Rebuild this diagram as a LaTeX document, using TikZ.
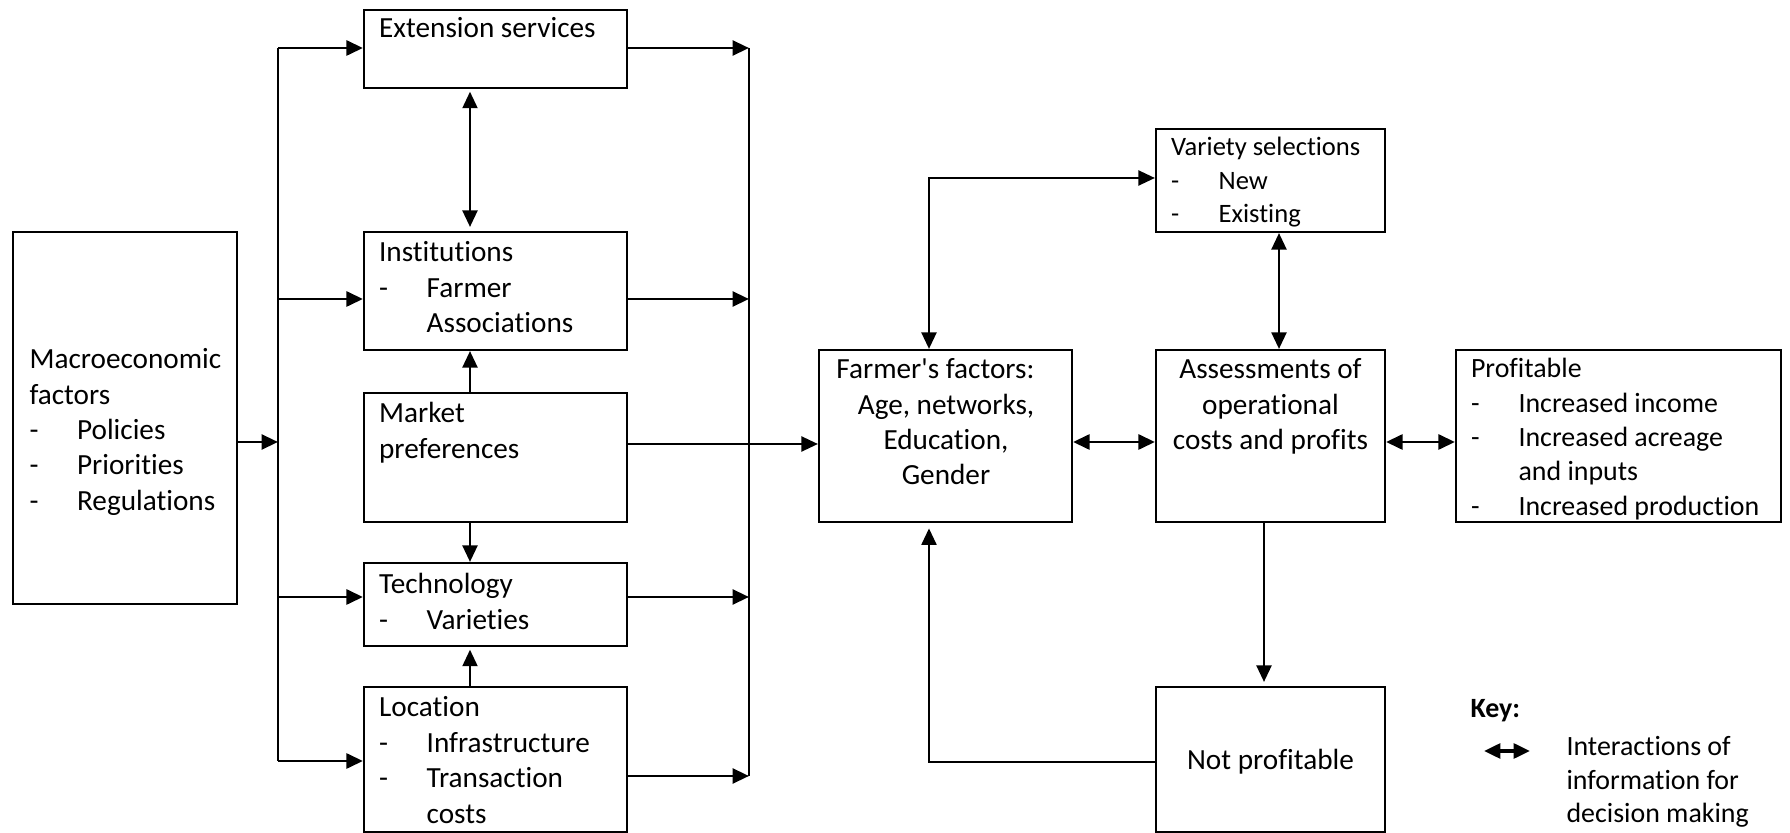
\documentclass[tikz,border=0pt]{standalone}
\usepackage{fontspec}
\setmainfont{Carlito}[Ligatures={TeX,NoCommon}]
\usetikzlibrary{arrows.meta,fit}
% list helpers: a dash followed by a tab-like indent, and an indented continuation line
\newcommand\dashitem{\makebox[17.9pt][l]{-}}
\newcommand\contline{\hspace*{17.9pt}}
% stacked lines whose baseline is the baseline of the first line
\newcommand\leftlines[1]{\vtop{\halign{##\hfil\cr #1\crcr}}}
\newcommand\centerlines[1]{\vtop{\halign{\hfil##\hfil\cr #1\crcr}}}
\begin{document}
\begin{tikzpicture}[x=0.3764pt,y=-0.3764pt,
  box/.style={draw, line width=0.8pt, inner sep=0pt},
  txt/.style={inner sep=0pt, anchor=base west, font=\fontsize{11}{13.3}\selectfont},
  ctxt/.style={inner sep=0pt, anchor=base, font=\fontsize{11}{13.3}\selectfont},
  tip/.style={line width=0.9pt},
  plain/.style={line width=0.8pt},
  link/.style={line width=0.9pt, -{Triangle[length=6.2pt,width=5.6pt]}},
  both/.style={line width=0.9pt, {Triangle[length=6.2pt,width=5.6pt]}-{Triangle[length=6.2pt,width=5.6pt]}}
]
\useasboundingbox (0,0) rectangle (1790,833);
\fill[white] (0,0) rectangle (1790,833);

% boxes
\node[box, fit={(13,232)(237,604)}] (macro) {};
\node[box, fit={(364,10)(627,88)}] (ext) {};
\node[box, fit={(364,232)(627,350)}] (inst) {};
\node[box, fit={(364,393)(627,522)}] (market) {};
\node[box, fit={(364,563)(627,646)}] (tech) {};
\node[box, fit={(364,687)(627,832)}] (loc) {};
\node[box, fit={(1156,129)(1385,232)}] (variety) {};
\node[box, fit={(819,350)(1072,522)}] (farmer) {};
\node[box, fit={(1156,350)(1385,522)}] (assess) {};
\node[box, fit={(1456,350)(1781,522)}] (profit) {};
\node[box, fit={(1156,687)(1385,832)}] (notprofit) {};

% box texts
\node[txt] (extT) at (378.6,38) {Extension services};
\node[txt] (instT) at (378.6,262) {\leftlines{Institutions\cr\dashitem Farmer\cr\contline Associations}};
\node[txt] (marketT) at (378.6,423) {\leftlines{Market\cr preferences}};
\node[txt] (techT) at (378.6,594) {\leftlines{Technology\cr\dashitem Varieties}};
\node[txt] (locT) at (378.6,717) {\leftlines{Location\cr\dashitem Infrastructure\cr\dashitem Transaction\cr\contline costs}};
\node[txt] (macroT) at (29,369) {\leftlines{Macroeconomic\cr factors\cr\dashitem Policies\cr\dashitem Priorities\cr\dashitem Regulations}};
\node[txt, font=\fontsize{10}{12.6}\selectfont] (varT) at (1170.6,156) {\leftlines{Variety selections\cr\dashitem New\cr\dashitem Existing}};
\node[ctxt] (farmerT) at (946,379) {\centerlines{Farmer\textquotesingle s factors:\hspace*{8pt}\cr Age, networks,\cr Education,\cr Gender}};
\node[ctxt] (assessT) at (1270.5,379) {\centerlines{Assessments of\cr operational\cr costs and profits}};
\node[txt, font=\fontsize{10.5}{12.9}\selectfont] (profitT) at (1470.5,378) {\leftlines{Profitable\cr\dashitem Increased income\cr\dashitem Increased acreage\cr\contline and inputs\cr\dashitem Increased production}};
\node[ctxt] (notT) at (1270.5,770) {Not profitable};

% key
\node[txt, font=\fontsize{10.5}{12.6}\selectfont\bfseries] (keyT) at (1470,718) {Key:};
\node[txt, font=\fontsize{10.5}{12.6}\selectfont] (keyD) at (1566,756) {\leftlines{Interactions of\cr information for\cr decision making}};
\coordinate (keyL) at (1484,751);
\coordinate (keyR) at (1530,751);
\draw[both, line width=1.3pt] (keyL) -- (keyR);

% distribution bus on the left, collecting bus on the right
\coordinate (lbusTop) at (278,48);
\coordinate (lbusBot) at (278,761);
\coordinate (rbusTop) at (749,48);
\coordinate (rbusBot) at (749,776);
\draw[plain] (lbusTop) -- (lbusBot);
\draw[plain] (rbusTop) -- (rbusBot);
\draw[link, line width=1.1pt] (macro.east |- 0,442) -- (lbusTop |- 0,442);
\draw[link, line width=1.1pt] (lbusTop) -- (ext.west |- lbusTop);
\draw[link, line width=1.1pt] (lbusTop |- 0,299) -- (inst.west |- 0,299);
\draw[link, line width=1.1pt] (lbusTop |- 0,597) -- (tech.west |- 0,597);
\draw[link, line width=1.1pt] (lbusBot) -- (loc.west |- lbusBot);
\draw[link, line width=1.1pt] (ext.east |- rbusTop) -- (rbusTop);
\draw[link, line width=1.1pt] (inst.east |- 0,299) -- (rbusTop |- 0,299);
\draw[link, line width=1.1pt] (tech.east |- 0,597) -- (rbusTop |- 0,597);
\draw[link, line width=1.1pt] (loc.east |- rbusBot) -- (rbusBot);
\draw[link] (market.east |- 0,444) -- (farmer.west |- 0,444);

% links between the middle column boxes
\draw[both, shorten <=1pt, shorten >=1.5pt] (ext.south -| 470,0) -- (inst.north -| 470,0);
\draw[link] (market.north -| 470,0) -- (inst.south -| 470,0);
\draw[link] (market.south -| 470,0) -- (tech.north -| 470,0);
\draw[link, shorten >=1pt] (loc.north -| 470,0) -- (tech.south -| 470,0);

% decision loop
\coordinate (corner) at (929,178);
\draw[both] (farmer.north -| corner) -- (corner) -- (variety.west |- corner);
\draw[both] (variety.south -| 1279,0) -- (assess.north -| 1279,0);
\draw[both, line width=1.1pt] (farmer.east |- 0,442) -- (assess.west |- 0,442);
\draw[both, line width=1.1pt] (assess.east |- 0,442) -- (profit.west |- 0,442);
\draw[link, shorten >=1.5pt] (assess.south -| 1264,0) -- (notprofit.north -| 1264,0);
\coordinate (loopcorner) at (929,762);
\draw[link, shorten >=2pt] (notprofit.west |- loopcorner) -- (loopcorner) -- (farmer.south -| loopcorner);
\end{tikzpicture}
\end{document}
